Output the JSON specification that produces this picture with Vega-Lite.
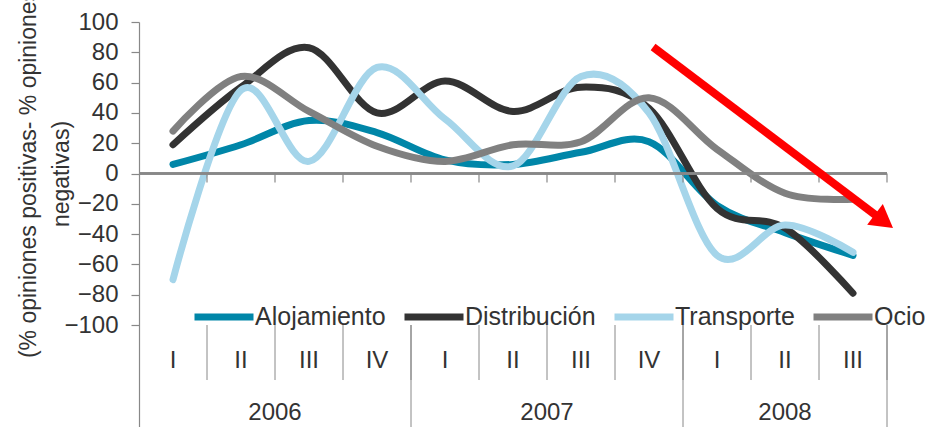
{
  "$schema": "https://vega.github.io/schema/vega-lite/v6.json",
  "autosize": {"type": "none"},
  "width": 748,
  "height": 405,
  "padding": {"left": 139, "top": 22, "right": 43, "bottom": 0},
  "background": "white",
  "config": {"view": {"stroke": null}, "font": "Liberation Sans"},
  "datasets": {
    "series": [
      {"periodo": "2006-I", "serie": "Alojamiento", "valor": 6},
      {"periodo": "2006-II", "serie": "Alojamiento", "valor": 19},
      {"periodo": "2006-III", "serie": "Alojamiento", "valor": 35},
      {"periodo": "2006-IV", "serie": "Alojamiento", "valor": 27},
      {"periodo": "2007-I", "serie": "Alojamiento", "valor": 9},
      {"periodo": "2007-II", "serie": "Alojamiento", "valor": 6},
      {"periodo": "2007-III", "serie": "Alojamiento", "valor": 14},
      {"periodo": "2007-IV", "serie": "Alojamiento", "valor": 21},
      {"periodo": "2008-I", "serie": "Alojamiento", "valor": -21},
      {"periodo": "2008-II", "serie": "Alojamiento", "valor": -39},
      {"periodo": "2008-III", "serie": "Alojamiento", "valor": -54},
      {"periodo": "2006-I", "serie": "Distribución", "valor": 19},
      {"periodo": "2006-II", "serie": "Distribución", "valor": 57},
      {"periodo": "2006-III", "serie": "Distribución", "valor": 83},
      {"periodo": "2006-IV", "serie": "Distribución", "valor": 40},
      {"periodo": "2007-I", "serie": "Distribución", "valor": 61},
      {"periodo": "2007-II", "serie": "Distribución", "valor": 41},
      {"periodo": "2007-III", "serie": "Distribución", "valor": 57},
      {"periodo": "2007-IV", "serie": "Distribución", "valor": 43},
      {"periodo": "2008-I", "serie": "Distribución", "valor": -23},
      {"periodo": "2008-II", "serie": "Distribución", "valor": -36},
      {"periodo": "2008-III", "serie": "Distribución", "valor": -79},
      {"periodo": "2006-I", "serie": "Transporte", "valor": -70},
      {"periodo": "2006-II", "serie": "Transporte", "valor": 55},
      {"periodo": "2006-III", "serie": "Transporte", "valor": 8},
      {"periodo": "2006-IV", "serie": "Transporte", "valor": 70},
      {"periodo": "2007-I", "serie": "Transporte", "valor": 36},
      {"periodo": "2007-II", "serie": "Transporte", "valor": 5},
      {"periodo": "2007-III", "serie": "Transporte", "valor": 64},
      {"periodo": "2007-IV", "serie": "Transporte", "valor": 40},
      {"periodo": "2008-I", "serie": "Transporte", "valor": -54},
      {"periodo": "2008-II", "serie": "Transporte", "valor": -34},
      {"periodo": "2008-III", "serie": "Transporte", "valor": -52},
      {"periodo": "2006-I", "serie": "Ocio", "valor": 28},
      {"periodo": "2006-II", "serie": "Ocio", "valor": 64},
      {"periodo": "2006-III", "serie": "Ocio", "valor": 41},
      {"periodo": "2006-IV", "serie": "Ocio", "valor": 18},
      {"periodo": "2007-I", "serie": "Ocio", "valor": 8},
      {"periodo": "2007-II", "serie": "Ocio", "valor": 19},
      {"periodo": "2007-III", "serie": "Ocio", "valor": 21},
      {"periodo": "2007-IV", "serie": "Ocio", "valor": 50},
      {"periodo": "2008-I", "serie": "Ocio", "valor": 16},
      {"periodo": "2008-II", "serie": "Ocio", "valor": -13},
      {"periodo": "2008-III", "serie": "Ocio", "valor": -17}
    ],
    "periodos": [
      {"periodo": "2006-I", "trimestre": "I", "anio": "2006"},
      {"periodo": "2006-II", "trimestre": "II", "anio": "2006"},
      {"periodo": "2006-III", "trimestre": "III", "anio": "2006"},
      {"periodo": "2006-IV", "trimestre": "IV", "anio": "2006"},
      {"periodo": "2007-I", "trimestre": "I", "anio": "2007"},
      {"periodo": "2007-II", "trimestre": "II", "anio": "2007"},
      {"periodo": "2007-III", "trimestre": "III", "anio": "2007"},
      {"periodo": "2007-IV", "trimestre": "IV", "anio": "2007"},
      {"periodo": "2008-I", "trimestre": "I", "anio": "2008"},
      {"periodo": "2008-II", "trimestre": "II", "anio": "2008"},
      {"periodo": "2008-III", "trimestre": "III", "anio": "2008"}
    ],
    "anios": [
      {"anio": "2006", "ultimo": "2006-IV", "centro": "2006-III"},
      {"anio": "2007", "ultimo": "2007-IV", "centro": "2007-III"},
      {"anio": "2008", "ultimo": "2008-III", "centro": "2008-II"}
    ],
    "flecha": [
      {"desde": "2007-IV", "hasta": "2008-III", "v_desde": 83.5, "v_hasta": -28, "v_punta": -31.5}
    ]
  },
  "encoding": {
    "x": {"field": "periodo", "type": "ordinal", "axis": null,
          "scale": {"type": "band", "paddingInner": 0, "paddingOuter": 0, "domain": ["2006-I","2006-II","2006-III","2006-IV","2007-I","2007-II","2007-III","2007-IV","2008-I","2008-II","2008-III"]}}
  },
  "layer": [
    {
      "data": {"name": "series"},
      "mark": {"type": "line", "interpolate": "cardinal", "strokeWidth": 7, "strokeCap": "round", "strokeJoin": "round"},
      "encoding": {
        "y": {
          "field": "valor", "type": "quantitative",
          "scale": {"domain": [-167.3, 100], "nice": false, "zero": false},
          "axis": {
            "values": [-100, -80, -60, -40, -20, 0, 20, 40, 60, 80, 100],
            "grid": false,
            "domain": true, "domainColor": "#888888", "domainWidth": 1.2,
            "ticks": true, "tickColor": "#888888", "tickSize": 8, "tickWidth": 1.2,
            "labels": true,
            "labelFontSize": 24, "labelColor": "#333333", "labelPadding": 13, "labelFont": "Liberation Sans",
            "title": ["(% opiniones positivas- % opiniones", "negativas)"],
            "titleFontSize": 23, "titleFontWeight": "normal", "titleColor": "#333333", "titleFont": "Liberation Sans",
            "titleLineHeight": 33, "titleAngle": 270, "titleAlign": "center", "titleBaseline": "alphabetic",
            "titleX": -104, "titleY": 151.5
          }
        },
        "color": {
          "field": "serie", "type": "nominal",
          "scale": {"domain": ["Alojamiento", "Distribución", "Transporte", "Ocio"], "range": ["#0086A8", "#333333", "#A5D5EA", "#808080"]},
          "legend": {
            "orient": "none", "direction": "horizontal", "legendX": 52, "legendY": 262,
            "title": null, "padding": 0,
            "symbolType": "stroke", "symbolSize": 3481, "symbolStrokeWidth": 7,
            "labelFontSize": 25, "labelColor": "#333333", "labelFont": "Liberation Sans",
            "labelOffset": -2, "columnPadding": 4, "labelLimit": 300
          }
        }
      }
    },
    {
      "data": {"name": "periodos"},
      "mark": {"type": "rule", "color": "#888888", "strokeWidth": 1.5},
      "encoding": {
        "x": null,
        "y": {"datum": 0, "type": "quantitative"}
      }
    },
    {
      "data": {"name": "periodos"},
      "mark": {"type": "rule", "color": "#888888", "strokeWidth": 1.2},
      "encoding": {
        "x": {"field": "periodo", "type": "ordinal", "bandPosition": 1, "axis": null},
        "y": {"datum": 0, "type": "quantitative"},
        "y2": {"datum": -6}
      }
    },
    {
      "data": {"name": "periodos"},
      "mark": {"type": "rule", "color": "#888888", "strokeWidth": 1},
      "encoding": {
        "x": {"field": "periodo", "type": "ordinal", "bandPosition": 1, "axis": null},
        "y": {"datum": -100, "type": "quantitative"},
        "y2": {"datum": -136.3}
      }
    },
    {
      "data": {"name": "anios"},
      "mark": {"type": "rule", "color": "#888888", "strokeWidth": 1},
      "encoding": {
        "x": {"field": "ultimo", "type": "ordinal", "bandPosition": 1, "axis": null},
        "y": {"datum": -100, "type": "quantitative"},
        "y2": {"datum": -167.3}
      }
    },
    {
      "data": {"name": "periodos"},
      "mark": {"type": "text", "fontSize": 24, "color": "#333333", "baseline": "middle", "align": "center"},
      "encoding": {
        "y": {"datum": -123.8, "type": "quantitative"},
        "text": {"field": "trimestre"}
      }
    },
    {
      "data": {"name": "anios"},
      "transform": [{"filter": "datum.anio != '2008'"}],
      "mark": {"type": "text", "fontSize": 24, "color": "#333333", "baseline": "middle", "align": "center"},
      "encoding": {
        "x": {"field": "centro", "type": "ordinal", "bandPosition": 0, "axis": null},
        "y": {"datum": -158, "type": "quantitative"},
        "text": {"field": "anio"}
      }
    },
    {
      "data": {"name": "anios"},
      "transform": [{"filter": "datum.anio == '2008'"}],
      "mark": {"type": "text", "fontSize": 24, "color": "#333333", "baseline": "middle", "align": "center"},
      "encoding": {
        "x": {"field": "centro", "type": "ordinal", "bandPosition": 0.5, "axis": null},
        "y": {"datum": -158, "type": "quantitative"},
        "text": {"field": "anio"}
      }
    },
    {
      "data": {"name": "flecha"},
      "mark": {"type": "rule", "color": "#FF0000", "strokeWidth": 8, "strokeCap": "butt"},
      "encoding": {
        "x": {"field": "desde", "type": "ordinal", "bandPosition": 0.56, "axis": null},
        "x2": {"field": "hasta", "bandPosition": 0.85},
        "y": {"field": "v_desde", "type": "quantitative"},
        "y2": {"field": "v_hasta"}
      }
    },
    {
      "data": {"name": "flecha"},
      "mark": {"type": "point", "shape": "triangle-right", "filled": true, "color": "#FF0000", "opacity": 1, "size": 676, "angle": 37, "strokeWidth": 0},
      "encoding": {
        "x": {"field": "hasta", "type": "ordinal", "bandPosition": 0.956, "axis": null},
        "y": {"field": "v_punta", "type": "quantitative"}
      }
    }
  ]
}
